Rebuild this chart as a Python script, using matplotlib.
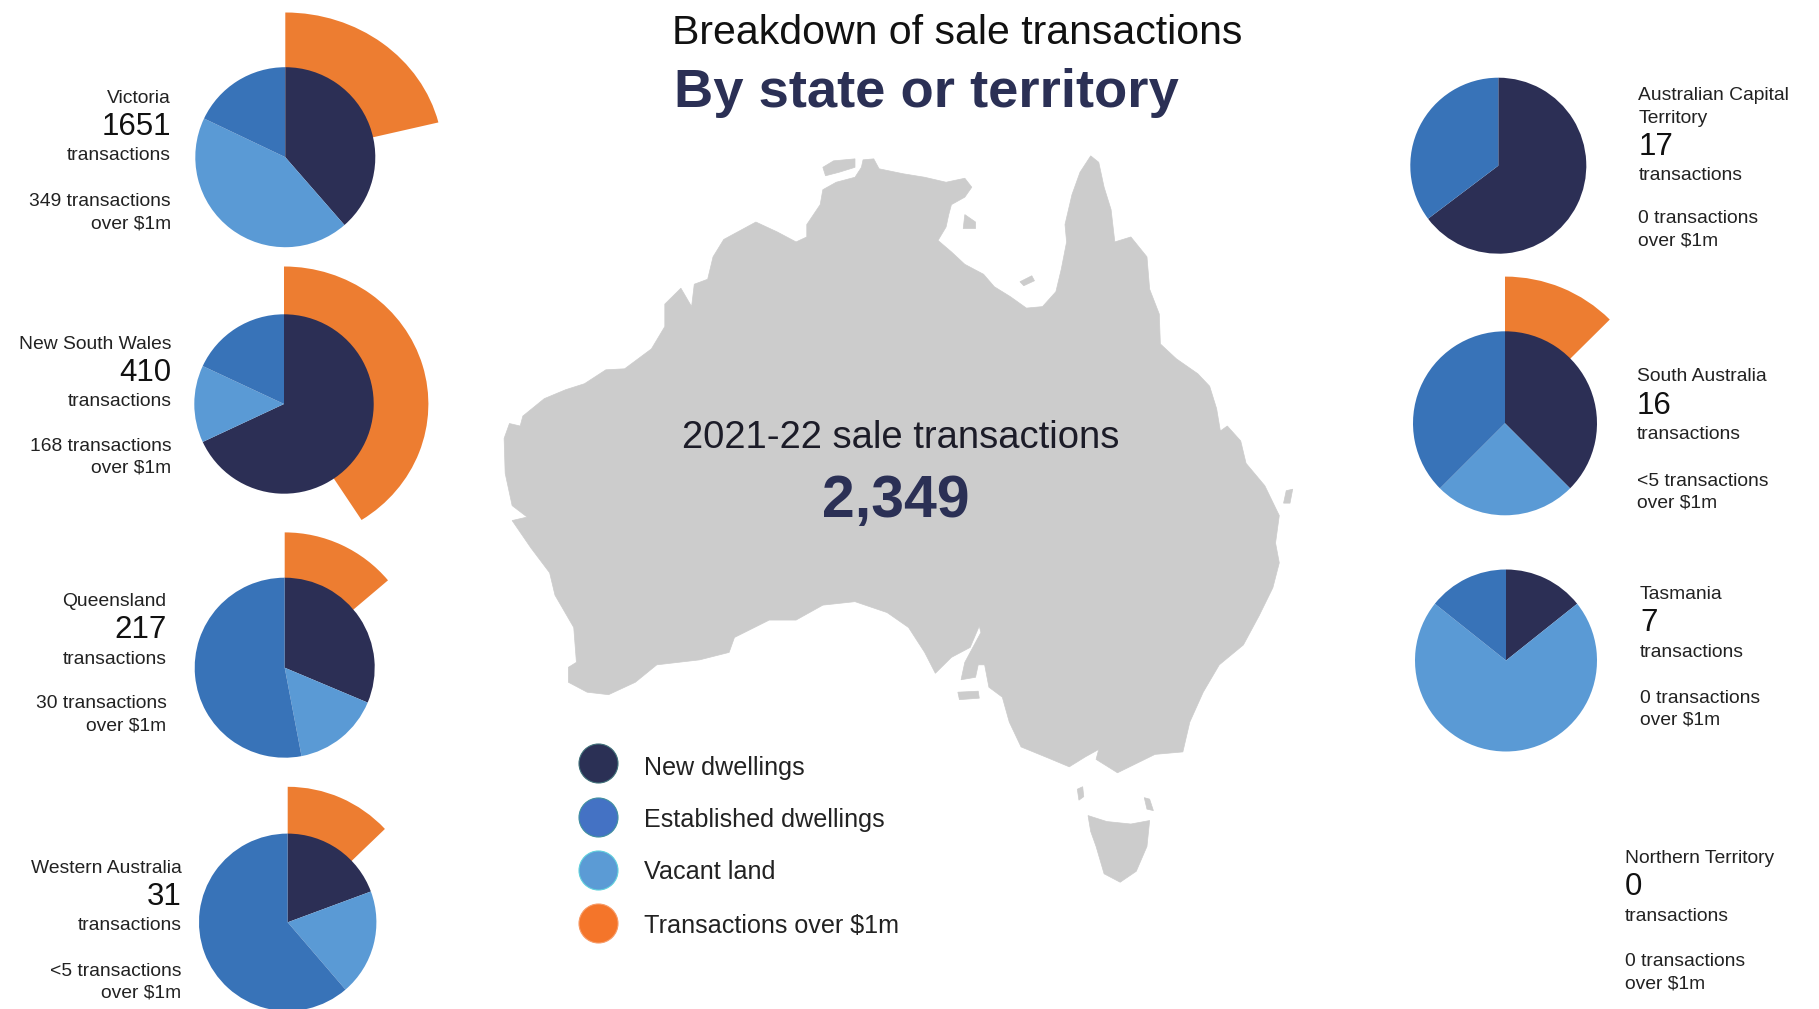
import matplotlib
matplotlib.use("Agg")
import matplotlib.pyplot as plt
from matplotlib.patches import Polygon
from matplotlib.transforms import Affine2D

plt.rcParams['font.family'] = ['Liberation Sans', 'DejaVu Sans']
W, H = 1819, 1009

# ---------- data ----------
STATES = ["Victoria", "New South Wales", "Queensland", "Western Australia",
          "Australian Capital\nTerritory", "South Australia", "Tasmania", "Northern Territory"]
TOTALS = [1651, 410, 217, 31, 17, 16, 7, 0]
NEW_DWELLINGS = [637, 279, 68, 6, 11, 6, 1, 0]
VACANT_LAND = [718, 57, 34, 6, 0, 4, 5, 0]
ESTABLISHED = [296, 74, 115, 19, 6, 6, 1, 0]
OVER_1M = [349, 168, 30, 4, 0, 2, 0, 0]
OVER_1M_LABELS = ["349", "168", "30", "<5", "0", "<5", "0", "0"]
LEGEND_LABELS = ["New dwellings", "Established dwellings", "Vacant land", "Transactions over $1m"]
TITLE = "Breakdown of sale transactions"
SUBTITLE = "By state or territory"
CENTER_LABEL = "2021-22 sale transactions"
CENTER_VALUE = "2,349"

# ---------- layout (reference pixels) ----------
PIE_CX = [285.3, 284, 284.7, 287.7, 1498.3, 1505, 1506, None]
PIE_CY = [157.2, 404, 667.7, 922.3, 165.7, 423.3, 660.5, None]
PIE_R = [90, 89.7, 90, 88.7, 88, 92, 91, None]
OUTER_R = [144.7, 137.5, 135.3, 135.5, 0, 146.7, 0, None]
OUTER_SX = [1.09, 1.05, 1.0, 0.99, 1.0, 1.01, 1.0, None]
TEXT_X = [171, 171.5, 166.5, 181.5, 1638.3, 1636.7, 1640, 1625]
TEXT_Y = [103, 349, 606, 872.7, 122.7, 380.7, 599.3, 863.3]
TEXT_HA = ["right"] * 4 + ["left"] * 4
MID_DY = [0, 0, 0, 0, 0, 1.2, 0, 0]
OVER_DY = [0, -1.2, -0.5, 0, -2.3, 2, 0.5, 0]
LEGEND_CY = [763.3, 817.3, 870, 923.3]
LEGEND_TY = [775, 826.7, 879.3, 932.7]

DARK, MID, LIGHT, ORANGE = "#2c2f55", "#3873b8", "#5a9ad5", "#ed7d31"
LEG_COLORS = ["#2b3055", "#4472c4", "#5b9bd5", "#f4752a"]
LEG_EDGES = ["#3f6f78", "#3f8f9f", "#5fd0dc", "#f79a66"]
TEXT_C = "#222222"
NAVY = "#2b3055"
MAP_C = "#cccccc"

# map outline
MAINLAND = [(715,60),(735,58),(745,78),(790,88),(830,95),(870,105),(905,97),(918,115),(905,135),(880,150),(875,170),(870,195),(855,222),(880,245),(905,270),(940,290),(960,315),(990,335),(1020,358),(1050,355),(1075,325),(1085,280),(1095,225),(1092,190),(1105,130),(1120,85),(1140,52),(1155,65),(1165,115),(1178,160),(1185,225),(1215,215),(1245,255),(1250,320),(1268,370),(1270,430),(1300,460),(1340,490),(1362,515),(1375,560),(1382,605),(1395,595),(1420,625),(1430,670),(1465,715),(1492,775),(1485,830),(1492,870),(1480,920),(1455,975),(1425,1035),(1380,1075),(1350,1130),(1325,1190),(1312,1250),(1260,1255),(1190,1292),(1150,1265),(1155,1245),(1130,1260),(1100,1280),(1060,1262),(1010,1240),(988,1190),(975,1140),(950,1120),(942,1075),(930,1075),(925,1100),(898,1105),(905,1070),(935,1010),(932,997),(915,1040),(880,1060),(850,1092),(830,1050),(800,1000),(760,970),(700,948),(640,955),(590,985),(540,985),(475,1020),(465,1050),(410,1065),(330,1075),(290,1110),(240,1135),(200,1130),(165,1110),(165,1080),(180,1070),(175,1000),(140,935),(130,890),(95,840),(60,785),(88,778),(60,755),(47,690),(45,620),(55,590),(75,595),(80,575),(120,540),(160,522),(195,510),(235,482),(270,480),(320,440),(345,395),(345,350),(375,318),(395,355),(400,310),(425,300),(435,255),(455,220),(515,185),(555,205),(590,225),(610,215),(610,190),(635,150),(640,120),(665,105),(700,95),(712,75)]
ISLANDS = [
    [(640,75),(660,62),(700,58),(700,75),(670,85),(645,92)],
    [(905,170),(925,185),(925,198),(902,198)],
    [(1008,305),(1030,293),(1035,303),(1015,313)],
    [(1505,725),(1517,722),(1512,750),(1500,750)],
    [(892,1130),(930,1128),(932,1142),(895,1145)],
    [(1115,1325),(1125,1320),(1127,1340),(1118,1347)],
    [(1240,1342),(1250,1345),(1257,1368),(1245,1365)],
    [(1135,1378),(1170,1390),(1215,1395),(1250,1388),(1245,1440),(1225,1490),(1195,1512),(1165,1495),(1150,1440),(1140,1410)],
]
MAP_SX, MAP_SY, MAP_X0, MAP_Y0 = 1568 / 840, 2.01, 480, 130

# ---------- drawing ----------
fig = plt.figure(figsize=(W / 100, H / 100), dpi=100, facecolor="white")
ax = fig.add_axes([0, 0, 1, 1])


def yy(py):
    return H - py


def txt(x, py, s, size, **kw):
    kw.setdefault("color", TEXT_C)
    kw.setdefault("va", "baseline")
    ax.text(x, yy(py), s, fontsize=size, **kw)


for shape in [MAINLAND] + ISLANDS:
    pts = [(MAP_X0 + x / MAP_SX, yy(MAP_Y0 + y / MAP_SY)) for x, y in shape]
    ax.add_patch(Polygon(pts, closed=True, facecolor=MAP_C, edgecolor=MAP_C, linewidth=0.5, zorder=0.5))

for i, state in enumerate(STATES):
    if TOTALS[i] > 0:
        c = (PIE_CX[i], yy(PIE_CY[i]))
        if OVER_1M[i] > 0:
            wedges, _ = ax.pie([OVER_1M[i], TOTALS[i] - OVER_1M[i]], center=c, radius=OUTER_R[i], startangle=90,
                               counterclock=False, colors=[ORANGE, "none"], wedgeprops=dict(linewidth=0), normalize=True)
            stretch = Affine2D().translate(-c[0], -c[1]).scale(OUTER_SX[i], 1).translate(c[0], c[1])
            for w in wedges:
                w.set_transform(stretch + ax.transData)
        ax.pie([NEW_DWELLINGS[i], VACANT_LAND[i], ESTABLISHED[i]], center=c, radius=PIE_R[i], startangle=90,
               counterclock=False, colors=[DARK, LIGHT, MID], wedgeprops=dict(linewidth=0), normalize=True)
    x, y, ha = TEXT_X[i], TEXT_Y[i], TEXT_HA[i]
    if "\n" in state:
        first, second = state.split("\n")
        txt(x, y - 22.7, first, 13.9, ha=ha)
        txt(x, y, second, 13.9, ha=ha)
    else:
        txt(x, y, state, 13.9, ha=ha)
    txt(x, y + 32 + MID_DY[i], str(TOTALS[i]), 22.5, ha=ha, color="#111111")
    txt(x, y + 57.5 + MID_DY[i], "transactions", 13.9, ha=ha)
    txt(x, y + 103 + OVER_DY[i], f"{OVER_1M_LABELS[i]} transactions", 13.9, ha=ha)
    txt(x, y + 125 + OVER_DY[i], "over $1m", 13.9, ha=ha)

txt(672, 44, TITLE, 29.5, color="#111111")
txt(674, 107.5, SUBTITLE, 39.2, color=NAVY, fontweight="bold")
txt(901, 447.5, CENTER_LABEL, 27.5, ha="center", color="#1c1c28")
txt(896, 516.5, CENTER_VALUE, 42.5, ha="center", color=NAVY, fontweight="bold")

for label, cy, ty, col, edge in zip(LEGEND_LABELS, LEGEND_CY, LEGEND_TY, LEG_COLORS, LEG_EDGES):
    ax.scatter([597.7], [yy(cy)], s=(2 * 19.5 * 0.72) ** 2, color=col, edgecolors=edge, linewidths=0.8, zorder=3)
    txt(644, ty, label, 18.05)

ax.set_xlim(0, W)
ax.set_ylim(0, H)
ax.set_aspect("equal")
ax.axis("off")
fig.savefig("out.png", dpi=100, facecolor="white")
